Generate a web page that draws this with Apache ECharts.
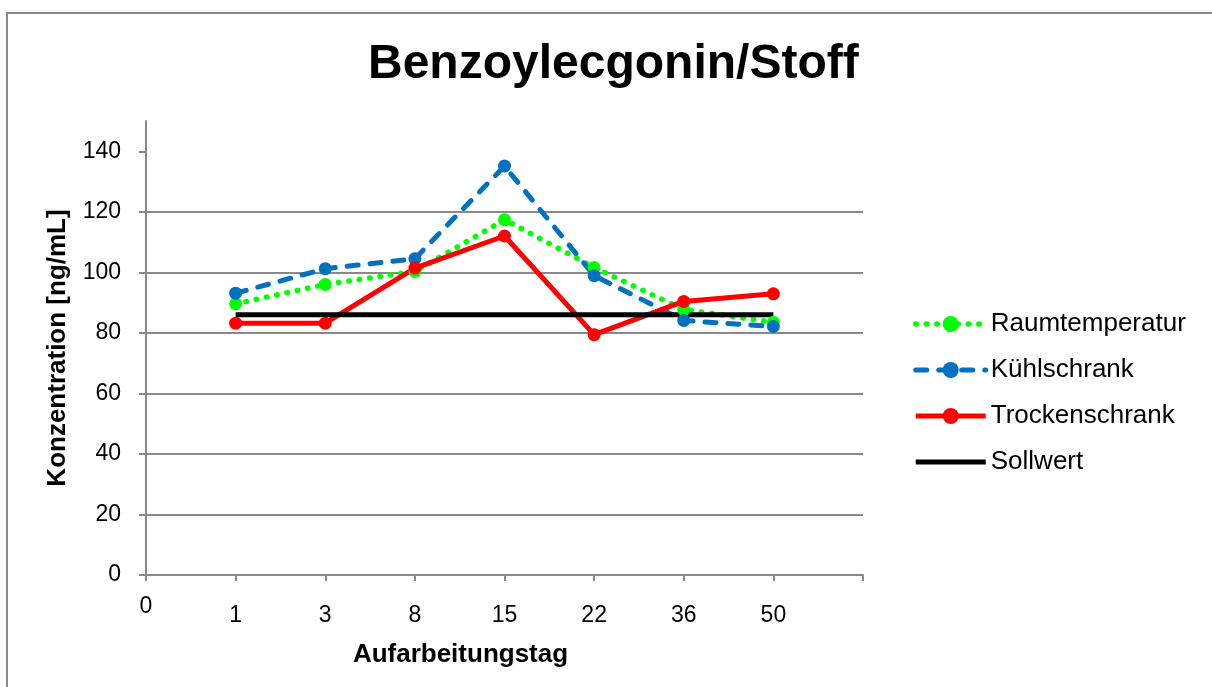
<!DOCTYPE html>
<html>
<head>
<meta charset="utf-8">
<script src="https://cdn.jsdelivr.net/npm/echarts@6/dist/echarts.min.js"></script>
<style>
    html, body { margin: 0; padding: 0; overflow: hidden; background: #fff; }
    .frame { position: absolute; left: 6px; top: 12px; width: 1400px; height: 900px;
             border-left: 2px solid #8a8a8a; border-top: 2px solid #8a8a8a; }
    #chart { position: absolute; left: 0; top: 0; width: 1212px; height: 687px; }
</style>
</head>
<body>
<div class="frame"></div>
<div id="chart"></div>
<script>
    // Aufarbeitungstag (first and last slot stay empty, as in the original)
    var days = ['0', '1', '3', '8', '15', '22', '36', '50', ''];
    var yTicks = [0, 20, 40, 60, 80, 100, 120, 140];

    var raumtemperatur = [89.6, 96.0, 100.3, 117.4, 101.6, 87.7, 83.5];
    var kuehlschrank   = [93.1, 101.2, 104.5, 135.1, 98.9, 84.1, 82.1];
    var trockenschrank = [83.2, 83.2, 101.4, 112.0, 79.4, 90.4, 92.9];
    var sollwert       = [86, 86, 86, 86, 86, 86, 86];

    function slots(values) {
        // empty slot for day "0", values from day 1 on
        return [null].concat(values);
    }

    var font = 'Liberation Sans, Arial, sans-serif';
    var dotted = { color: '#00ff00', width: 5.5, type: [0.5, 10], cap: 'round' };
    var dashed = { color: '#0070c0', width: 5, type: [11, 12], cap: 'round' };
    var solidRed = { color: '#ff0000', width: 5 };
    var solidBlack = { color: '#000', width: 5 };

    var chart = echarts.init(document.getElementById('chart'));
    var option = {
        backgroundColor: 'transparent',
        animation: false,
        title: {
            text: 'Benzoylecgonin/Stoff',
            left: 363,
            top: 36,
            textStyle: { fontFamily: font, fontSize: 48, fontWeight: 'bold', color: '#000' }
        },
        legend: {
            orient: 'vertical',
            left: 908,
            top: 306,
            itemWidth: 70,
            itemHeight: 20,
            itemGap: 20,
            textStyle: { fontFamily: font, fontSize: 26, color: '#000' },
            data: [
                { name: 'Raumtemperatur', lineStyle: dotted },
                { name: 'Kühlschrank', lineStyle: dashed },
                { name: 'Trockenschrank', lineStyle: solidRed },
                { name: 'Sollwert', lineStyle: solidBlack, itemStyle: { opacity: 0 } }
            ]
        },
        grid: { left: 146, top: 121, width: 717, height: 454 },
        xAxis: {
            type: 'category',
            boundaryGap: false,
            data: days,
            name: 'Aufarbeitungstag',
            nameLocation: 'middle',
            nameGap: 67,
            nameTextStyle: { fontFamily: font, fontSize: 26, fontWeight: 'bold', color: '#000', padding: [0, 88, 0, 0] },
            axisLine: { lineStyle: { color: '#898989', width: 2 } },
            axisTick: { length: 6, lineStyle: { color: '#898989', width: 2 } },
            axisLabel: {
                fontFamily: font, fontSize: 23, color: '#000', margin: 41,
                interval: 0,
                verticalAlign: 'middle',
                lineHeight: 18,
                formatter: function (v) { return v === '0' ? '0\n' : v; }
            },
            splitLine: { show: false }
        },
        yAxis: {
            type: 'value',
            min: 0,
            max: 150,
            interval: 20,
            name: 'Konzentration [ng/mL]',
            nameLocation: 'middle',
            nameGap: 75,
            nameTextStyle: { fontFamily: font, fontSize: 26, fontWeight: 'bold', color: '#000' },
            axisLine: { show: true, lineStyle: { color: '#898989', width: 2 } },
            axisTick: { show: true, length: 7, customValues: yTicks, lineStyle: { color: '#898989', width: 2 } },
            axisLabel: { fontFamily: font, fontSize: 23, color: '#000', margin: 25, customValues: yTicks },
            splitLine: { show: true, showMinLine: false, showMaxLine: false, lineStyle: { color: '#898989', width: 2 } }
        },
        series: [
            {
                name: 'Raumtemperatur',
                type: 'line',
                data: slots(raumtemperatur),
                symbol: 'circle',
                symbolSize: 13,
                itemStyle: { color: '#00ff00' },
                lineStyle: dotted
            },
            {
                name: 'Kühlschrank',
                type: 'line',
                data: slots(kuehlschrank),
                symbol: 'circle',
                symbolSize: 13,
                itemStyle: { color: '#0070c0' },
                lineStyle: dashed
            },
            {
                name: 'Trockenschrank',
                type: 'line',
                data: slots(trockenschrank),
                symbol: 'circle',
                symbolSize: 13,
                itemStyle: { color: '#ff0000' },
                lineStyle: solidRed
            },
            {
                name: 'Sollwert',
                type: 'line',
                data: slots(sollwert),
                symbol: 'none',
                itemStyle: { color: '#000' },
                lineStyle: solidBlack
            }
        ]
    };
    chart.setOption(option);
</script>
</body>
</html>
